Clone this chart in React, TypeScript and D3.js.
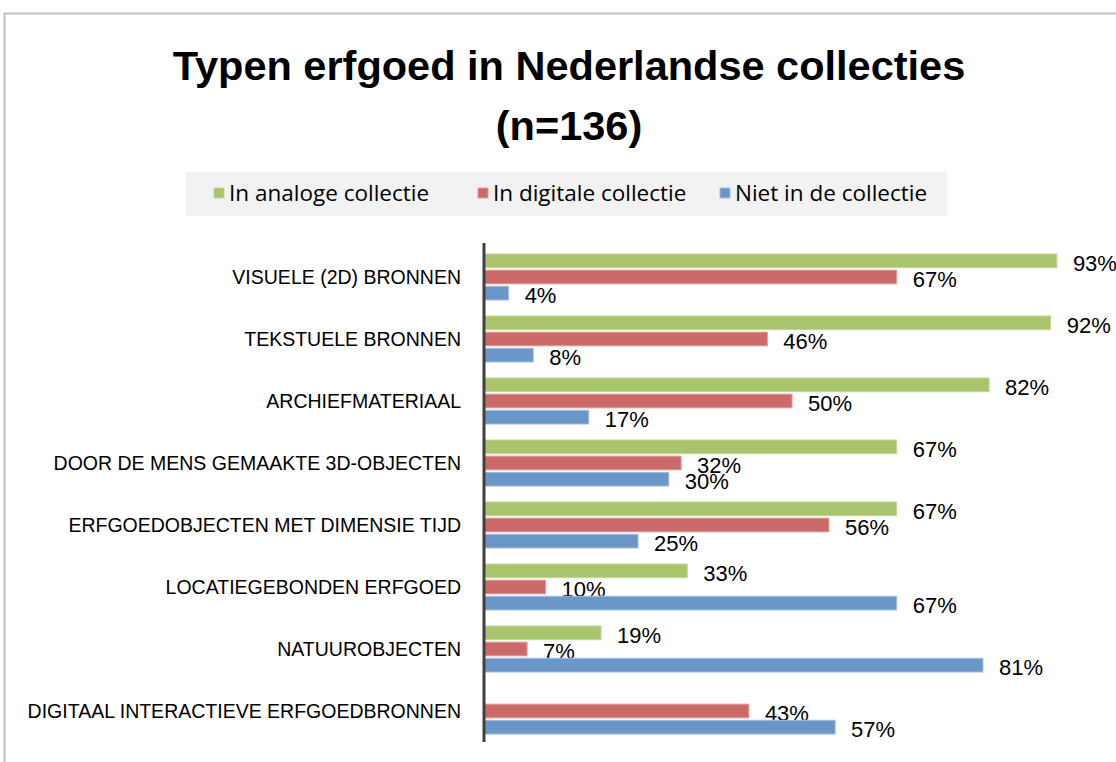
import * as d3 from 'd3';

const categories = [
  'VISUELE (2D) BRONNEN',
  'TEKSTUELE BRONNEN',
  'ARCHIEFMATERIAAL',
  'DOOR DE MENS GEMAAKTE 3D-OBJECTEN',
  'ERFGOEDOBJECTEN MET DIMENSIE TIJD',
  'LOCATIEGEBONDEN ERFGOED',
  'NATUUROBJECTEN',
  'DIGITAAL INTERACTIEVE ERFGOEDBRONNEN',
];
const seriesNames = ['In analoge collectie', 'In digitale collectie', 'Niet in de collectie'];
const analoog = [93, 92, 82, 67, 67, 33, 19, 0];
const digitaal = [67, 46, 50, 32, 56, 10, 7, 43];
const nietAanwezig = [4, 8, 17, 30, 25, 67, 81, 57];

const COLORS = ['#a8c46c', '#cb6a68', '#6a96c8'];
const STROKES = ['#c4d89c', '#e0a09e', '#a2bfe0'];

const W = 1116;
const H = 762;
const FONT = '"Liberation Sans", Arial, sans-serif';
const LEGEND_FONT = '"Open Sans", sans-serif';

export default function App() {
  const series = [analoog, digitaal, nietAanwezig];
  const x = d3.scaleLinear().domain([0, 100]).range([484, 1100]);
  const y = d3.scaleBand<string>().domain(categories).range([246, 742]);
  const sub = d3.scaleBand<string>().domain(seriesNames).range([8, 54]).paddingInner(0.15);

  return (
    <div style={{ position: 'absolute', left: 0, top: 0 }}>
      <svg width={W} height={H} style={{ display: 'block', background: '#fff' }}>
        {/* chart frame */}
        <path d={`M4.5,${H} V13.5 H${W}`} fill="none" stroke="#bfbfbf" strokeWidth={2} />

        {/* title */}
        <text x={569} y={80} textAnchor="middle" fontFamily={FONT} fontWeight="bold" fontSize={41.5} fill="#000">
          Typen erfgoed in Nederlandse collecties
        </text>
        <text x={569} y={140} textAnchor="middle" fontFamily={FONT} fontWeight="bold" fontSize={41.5} fill="#000">
          (n=136)
        </text>

        {/* legend */}
        <rect x={186} y={172} width={761} height={44} fill="#f2f2f2" />
        {seriesNames.map((name, i) => {
          const lx = [214, 478, 720][i];
          return (
            <g key={name}>
              <rect x={lx} y={188} width={10} height={10} fill={COLORS[i]} stroke={STROKES[i]} strokeWidth={1} />
              <text x={lx + 15} y={201} fontFamily={LEGEND_FONT} fontSize={22.5} fill="#000">{name}</text>
            </g>
          );
        })}

        {/* bars */}
        {categories.map((cat, ci) => (
          <g key={cat} transform={`translate(0,${y(cat)})`}>
            <text x={461} y={y.bandwidth() / 2 + 7} textAnchor="end" fontFamily={FONT} fontSize={19.5} fill="#000">
              {cat}
            </text>
            {series.map((vals, si) => {
              const v = vals[ci];
              const by = sub(seriesNames[si]) ?? 0;
              return (
                <g key={si}>
                  {v > 0 && (
                    <rect
                      x={x(0)}
                      y={by}
                      width={x(v) - x(0)}
                      height={sub.bandwidth()}
                      fill={COLORS[si]}
                      stroke={STROKES[si]}
                      strokeWidth={1}
                    />
                  )}
                  {v > 0 && (
                    <text
                      x={x(v) + 16}
                      y={by + sub.bandwidth() / 2 + 10}
                      fontFamily={FONT}
                      fontSize={22}
                      fill="#000"
                    >
                      {`${v}%`}
                    </text>
                  )}
                </g>
              );
            })}
          </g>
        ))}

        {/* category axis */}
        <line x1={x(0)} x2={x(0)} y1={243} y2={742} stroke="#404040" strokeWidth={3} />
      </svg>
    </div>
  );
}
